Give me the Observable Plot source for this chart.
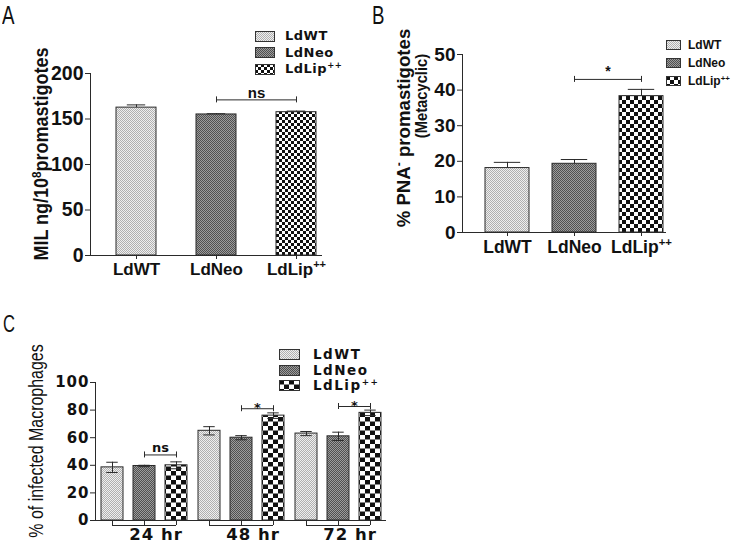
<!DOCTYPE html>
<html>
<head>
<meta charset="utf-8">
<script src="https://cdn.jsdelivr.net/npm/d3@7"></script>
<script src="https://cdn.jsdelivr.net/npm/@observablehq/plot@0.6"></script>
<style>
  body { margin: 0; background: #fff; }
  #fig { position: relative; width: 733px; height: 548px; overflow: hidden; background: #fff; color: #111; }
  .panel { position: absolute; }
  .letter { position: absolute; font-family: "Liberation Sans", sans-serif; font-size: 26px; line-height: 1; color: #111; transform-origin: 0 0; transform: scaleX(0.72); }
  .ylab { position: absolute; white-space: nowrap; line-height: 1; color: #111; }
  .ylab sup, .legend sup { font-size: 0.65em; vertical-align: 0.55em; line-height: 0; }
  .legend { position: absolute; color: #111; font-weight: bold; }
  .legend .row { display: flex; align-items: center; white-space: nowrap; }
  .legend svg { display: block; flex: none; }
  .pc [aria-label="y-axis tick label"] text { letter-spacing: 1px; }
  .pc [aria-label="fx-axis tick label"] text { letter-spacing: 1px; }
</style>
</head>
<body>
<svg width="0" height="0" style="position:absolute">
  <defs>
    <pattern id="wt" width="2" height="2" patternUnits="userSpaceOnUse">
      <rect width="2" height="2" fill="#efefef"/><rect width="1" height="1" fill="#b0b0b0"/><rect x="1" y="1" width="1" height="1" fill="#b0b0b0"/>
    </pattern>
    <pattern id="neo" width="2" height="2" patternUnits="userSpaceOnUse">
      <rect width="2" height="2" fill="#9c9c9c"/><rect width="1" height="1" fill="#505050"/><rect x="1" y="1" width="1" height="1" fill="#505050"/>
    </pattern>
    <pattern id="lipA" width="6" height="6" patternUnits="userSpaceOnUse">
      <rect width="6" height="6" fill="#fff"/><rect width="3" height="3" fill="#111"/><rect x="3" y="3" width="3" height="3" fill="#111"/>
    </pattern>
    <pattern id="lipB" width="8" height="8" patternUnits="userSpaceOnUse">
      <rect width="8" height="8" fill="#fff"/><rect width="4" height="4" fill="#111"/><rect x="4" y="4" width="4" height="4" fill="#111"/>
    </pattern>
    <pattern id="lipC" width="10" height="9" patternUnits="userSpaceOnUse">
      <rect width="10" height="9" fill="#fff"/><rect width="5" height="4.5" fill="#111"/><rect x="5" y="4.5" width="5" height="4.5" fill="#111"/>
    </pattern>
  </defs>
</svg>
<div id="fig"></div>
<script>
// ---------------- data ----------------
const strains = ["LdWT", "LdNeo", "LdLip++"];

// Panel A: MIL ng / 10^8 promastigotes
const milMean = [162.5, 155, 157.5];
const milErr  = [3, 0.8, 1.2];
const milTicks = [0, 50, 100, 150, 200];
const milSig = [{from: "LdNeo", to: "LdLip++", level: 171, label: "ns"}];

// Panel B: % PNA- promastigotes (metacyclic)
const pnaMean = [18.1, 19.3, 38.3];
const pnaErr  = [1.6, 1.2, 1.9];
const pnaTicks = [0, 10, 20, 30, 40, 50];
const pnaSig = [{from: "LdNeo", to: "LdLip++", level: 43, label: "*"}];

// Panel C: % of infected macrophages
const times  = ["24 hr", "48 hr", "72 hr"];
const infWT  = [38.5, 65, 63];
const infNeo = [39.5, 60, 61];
const infLip = [40, 76, 78];
const errWT  = [3.7, 3, 1.5];
const errNeo = [0.5, 1.5, 3];
const errLip = [2.5, 2, 2];
const infTicks = [0, 20, 40, 60, 80, 100];
const infSig = [
  {time: "24 hr", from: "LdNeo", to: "LdLip++", level: 47.5, label: "ns"},
  {time: "48 hr", from: "LdNeo", to: "LdLip++", level: 81, label: "*"},
  {time: "72 hr", from: "LdNeo", to: "LdLip++", level: 82.6, label: "*"}
];

// ---------------- helpers ----------------
const FB = '"Liberation Sans",Arial,sans-serif';
const FD = '"DejaVu Sans",Verdana,sans-serif';
const INK = "#2a2a2a";

const dataA = strains.map((s, i) => ({strain: s, mean: milMean[i], err: milErr[i]}));
const dataB = strains.map((s, i) => ({strain: s, mean: pnaMean[i], err: pnaErr[i]}));
const cMeans = [infWT, infNeo, infLip], cErrs = [errWT, errNeo, errLip];
const dataC = times.flatMap((t, i) => strains.map((s, j) => ({time: t, strain: s, mean: cMeans[j][i], err: cErrs[j][i]})));
const groupsC = times.map(t => ({time: t, from: strains[0], to: strains[strains.length - 1]}));

function supify(svg) {
  svg.querySelectorAll("text, tspan").forEach(t => {
    if (t.childElementCount === 0 && t.textContent.endsWith("++")) {
      t.textContent = t.textContent.slice(0, -2);
      const ts = document.createElementNS("http://www.w3.org/2000/svg", "tspan");
      ts.setAttribute("dy", "-0.62em");
      ts.setAttribute("font-size", "0.65em");
      ts.textContent = "++";
      t.appendChild(ts);
    }
  });
}
function build(fn) {
  const first = fn(null);
  const sx = first.scale("x");
  const p = fn(sx);
  supify(p);
  return p;
}
const baseStyle = {background: "none", overflow: "visible", color: "#111", maxWidth: "none"};

// significance bracket marks (bar-centre to bar-centre)
function bracket(sig, bw, half, fx, textOpts, dyStar, dyWord) {
  const f = fx ? {fx: "time"} : {};
  const t = {...f, x: "from", y: "level", text: "label", dx: half, lineAnchor: "bottom", fontWeight: "bold", ...textOpts};
  return [
    Plot.ruleY(sig, {...f, x1: "from", x2: "to", y: "level", insetLeft: bw / 2, insetRight: bw / 2, stroke: INK}),
    Plot.ruleX(sig, {...f, x: "from", y1: "level", y2: "level", insetTop: -3, insetBottom: -3, stroke: INK}),
    Plot.ruleX(sig, {...f, x: "to", y1: "level", y2: "level", insetTop: -3, insetBottom: -3, stroke: INK}),
    Plot.text(sig, {...t, filter: d => d.label === "*", dy: dyStar}),
    Plot.text(sig, {...t, filter: d => d.label !== "*", dy: dyWord})
  ];
}

// ---------------- panel A ----------------
function panelA(sx) {
  const bw = sx ? sx.bandwidth : 0, half = sx ? sx.step / 2 : 0;
  return Plot.plot({
    width: 370, height: 290, marginLeft: 90, marginRight: 48, marginTop: 73, marginBottom: 35,
    style: baseStyle,
    x: {domain: strains, paddingInner: 0.5, paddingOuter: 0.191, align: 0.81, axis: null},
    y: {domain: [0, 200], axis: null},
    color: {domain: strains, range: ["url(#wt)", "url(#neo)", "url(#lipA)"]},
    marks: [
      Plot.barY(dataA, {x: "strain", y: "mean", fill: "strain", stroke: INK, strokeWidth: 1}),
      Plot.ruleX(dataA, {x: "strain", y1: "mean", y2: d => d.mean + d.err, stroke: INK}),
      Plot.tickY(dataA, {x: "strain", y: d => d.mean + d.err, insetLeft: bw * 0.27, insetRight: bw * 0.27, stroke: INK}),
      Plot.frame({anchor: "left", stroke: INK}),
      Plot.ruleY([0], {stroke: INK}),
      Plot.axisY({ticks: milTicks, tickSize: 5, tickPadding: 2, fontSize: 19.5, fontWeight: "bold", fontFamily: FB, label: null, stroke: INK}),
      Plot.axisX({tickSize: 4, tickPadding: 3, fontSize: 17, fontWeight: "bold", fontFamily: FB, label: null, stroke: INK}),
      ...bracket(milSig, bw, half, false, {fontSize: 15, fontFamily: FB}, -3, -2)
    ]
  });
}

// ---------------- panel B ----------------
function panelB(sx) {
  const bw = sx ? sx.bandwidth : 0, half = sx ? sx.step / 2 : 0;
  return Plot.plot({
    width: 363, height: 290, marginLeft: 92, marginRight: 67, marginTop: 54, marginBottom: 58,
    style: baseStyle,
    x: {domain: strains, paddingInner: 0.34, paddingOuter: 0.175, align: 0.88, axis: null},
    y: {domain: [0, 50], axis: null},
    color: {domain: strains, range: ["url(#wt)", "url(#neo)", "url(#lipB)"]},
    marks: [
      Plot.barY(dataB, {x: "strain", y: "mean", fill: "strain", stroke: INK, strokeWidth: 1}),
      Plot.ruleX(dataB, {x: "strain", y1: "mean", y2: d => d.mean + d.err, stroke: INK}),
      Plot.tickY(dataB, {x: "strain", y: d => d.mean + d.err, insetLeft: bw * 0.2, insetRight: bw * 0.2, stroke: INK}),
      Plot.frame({anchor: "left", stroke: INK}),
      Plot.ruleY([0], {stroke: INK}),
      Plot.axisY({ticks: pnaTicks, tickSize: 5, tickPadding: 2, fontSize: 19, fontWeight: "bold", fontFamily: FB, label: null, stroke: INK}),
      Plot.axisX({tickSize: 4, tickPadding: 4, fontSize: 17.5, fontWeight: "bold", fontFamily: FB, label: null, stroke: INK}),
      ...bracket(pnaSig, bw, half, false, {fontSize: 14, fontFamily: FB}, -3, -2)
    ]
  });
}

// ---------------- panel C ----------------
function panelC(sx) {
  const bw = sx ? sx.bandwidth : 0, half = sx ? sx.step / 2 : 0;
  return Plot.plot({
    width: 420, height: 248, marginLeft: 94, marginRight: 33, marginTop: 82, marginBottom: 28,
    className: "pc",
    style: baseStyle,
    fx: {domain: times, paddingInner: 0, paddingOuter: 0, axis: null},
    x: {domain: strains, paddingInner: 0.323, paddingOuter: 0.1615, axis: null},
    y: {domain: [0, 100], axis: null},
    color: {domain: strains, range: ["url(#wt)", "url(#neo)", "url(#lipC)"]},
    marks: [
      Plot.barY(dataC, {fx: "time", x: "strain", y: "mean", fill: "strain", stroke: INK, strokeWidth: 1}),
      Plot.ruleX(dataC, {fx: "time", x: "strain", y1: d => d.mean - d.err, y2: d => d.mean + d.err, stroke: INK}),
      Plot.tickY(dataC, {fx: "time", x: "strain", y: d => d.mean + d.err, insetLeft: bw * 0.24, insetRight: bw * 0.24, stroke: INK}),
      Plot.tickY(dataC, {fx: "time", x: "strain", y: d => d.mean - d.err, insetLeft: bw * 0.24, insetRight: bw * 0.24, stroke: INK}),
      Plot.frame({anchor: "left", facetAnchor: "left", stroke: INK}),
      Plot.ruleY([0], {stroke: INK}),
      Plot.ruleX(dataC, {fx: "time", x: "strain", y1: 0, y2: 0, insetBottom: -5, stroke: INK}),
      Plot.ruleY(groupsC, {fx: "time", x1: "from", x2: "to", y: 0, dy: 5, insetLeft: bw / 2, insetRight: bw / 2, stroke: INK}),
      Plot.axisY({ticks: infTicks, tickSize: 5, tickPadding: 1, fontSize: 15, fontWeight: "bold", fontFamily: FD, label: null, stroke: INK}),
      Plot.axisFx({anchor: "bottom", tickSize: 0, tickPadding: 8, dx: 12, fontSize: 16.5, fontWeight: "bold", fontFamily: FD, label: null}),
      ...bracket(infSig, bw, half, true, {fontSize: 13, fontFamily: FD}, 3, -3)
    ]
  });
}

// ---------------- assemble ----------------
const fig = document.getElementById("fig");
function place(node, left, top) {
  const d = document.createElement("div");
  d.className = "panel"; d.style.left = left + "px"; d.style.top = top + "px";
  d.appendChild(node); fig.appendChild(d);
}
place(build(panelA), 0, 0);
place(build(panelB), 370, 0);
place(build(panelC), 0, 300);

function addHTML(cls, html, css) {
  const d = document.createElement("div");
  d.className = cls; d.innerHTML = html; Object.assign(d.style, css); fig.appendChild(d);
  return d;
}
// panel letters
addHTML("letter", "A", {left: "2px", top: "2px"});
addHTML("letter", "B", {left: "372px", top: "2px"});
addHTML("letter", "C", {left: "3px", top: "313px", fontSize: "23px"});

// rotated axis titles, condensed along the text direction
function ylab(html, cx, cy, css, squeeze) {
  const d = addHTML("ylab", html, {left: cx + "px", top: cy + "px", fontFamily: FB, ...css});
  d.style.transform = `translate(-50%, -50%) rotate(-90deg) scaleX(${squeeze})`;
}
ylab("MIL ng/10<sup>8</sup>promastigotes", 41, 154, {fontWeight: "bold", fontSize: "20px"}, 0.9);
ylab("% PNA<sup>-</sup> promastigotes", 403, 128, {fontWeight: "bold", fontSize: "19px"}, 0.98);
ylab("(Metacyclic)", 422, 96, {fontWeight: "bold", fontSize: "16px"}, 0.92);
ylab("% of infected Macrophages", 35, 441, {fontSize: "21px"}, 0.76);

// legends
function legend(patterns, sw, css, gap) {
  const rows = strains.map((s, i) => {
    const label = s.endsWith("++") ? s.slice(0, -2) + "<sup>++</sup>" : s;
    return `<div class="row"><svg width="${sw[0]}" height="${sw[1]}"><rect x="0.5" y="0.5" width="${sw[0] - 1}" height="${sw[1] - 1}" fill="url(#${patterns[i]})" stroke="#333"/></svg><span style="margin-left:${gap}px">${label}</span></div>`;
  }).join("");
  return addHTML("legend", rows, css);
}
legend(["wt", "neo", "lipA"], [20, 11], {left: "255px", top: "28px", fontFamily: FD, fontSize: "13px", lineHeight: "16.5px", letterSpacing: "0.5px"}, 10);
legend(["wt", "neo", "lipB"], [15, 10], {left: "666px", top: "36px", fontFamily: FB, fontSize: "12px", lineHeight: "18px"}, 7);
legend(["wt", "neo", "lipC"], [21, 11], {left: "279px", top: "347px", fontFamily: FD, fontSize: "13.5px", lineHeight: "15.5px", letterSpacing: "1.5px"}, 13);
</script>
</body>
</html>
